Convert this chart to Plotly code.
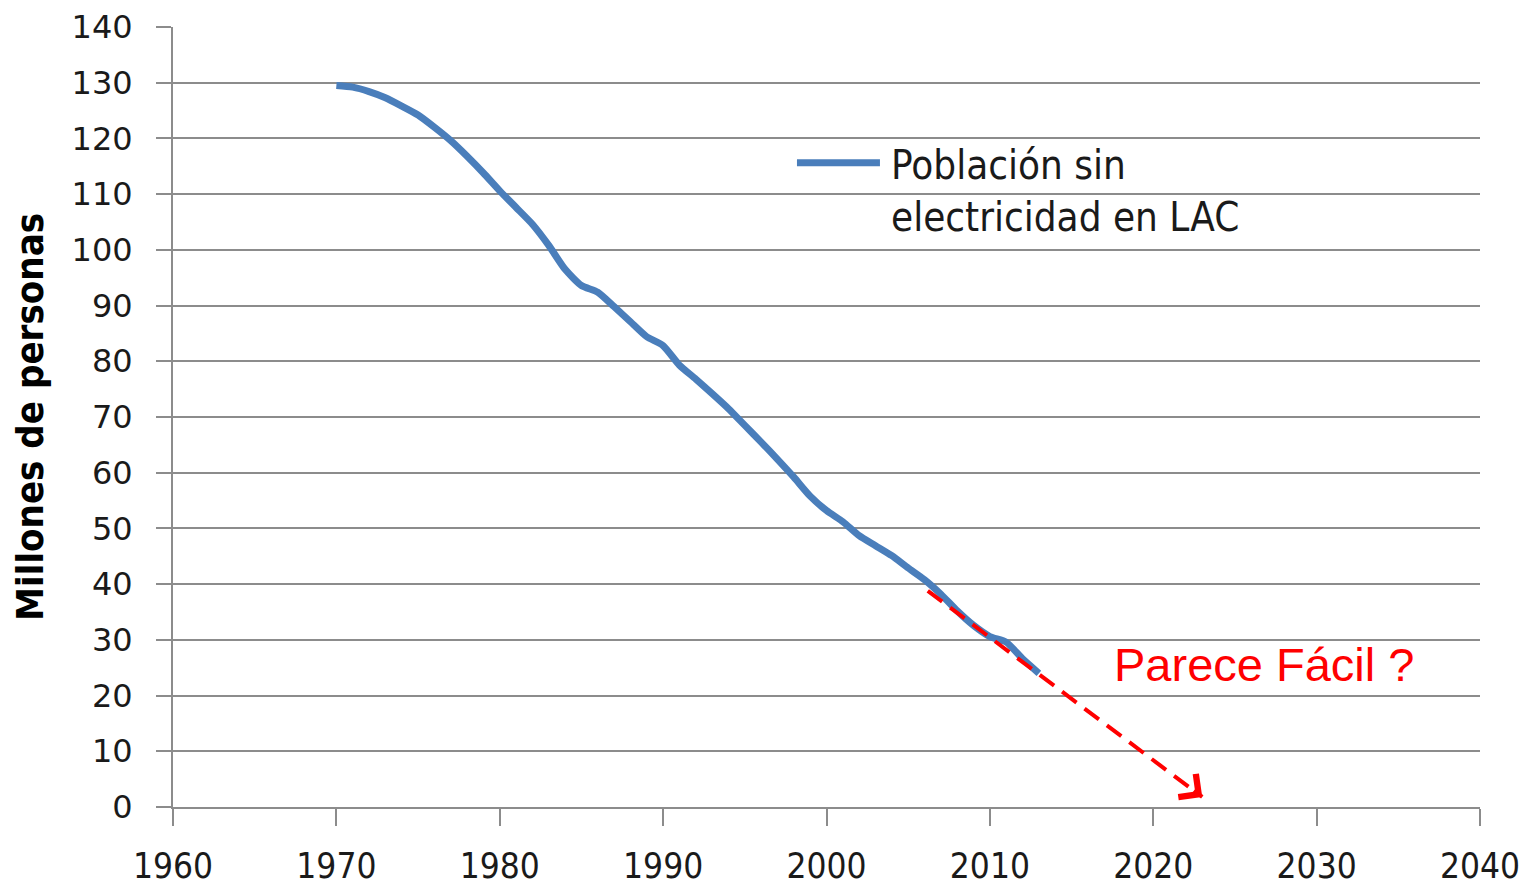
import plotly.graph_objects as go

# población sin electricidad en LAC (millones)
years = list(range(1970, 2014))
poblacion = [129.5, 129.2, 128.4, 127.3, 125.8, 124.2, 122.0, 119.6, 116.8, 113.8,
             110.6, 107.6, 104.6, 100.8, 96.5, 93.6, 92.4, 89.8, 87.1, 84.4,
             82.8, 79.3, 76.8, 74.2, 71.5, 68.5, 65.5, 62.4, 59.2, 55.8,
             53.2, 51.2, 48.7, 46.9, 45.1, 42.9, 40.8, 38.2, 35.2, 32.6,
             30.6, 29.6, 26.6, 24.0]

# tendencia "fácil" (flecha roja)
trend_x = [2006.2, 2023.0]
trend_y = [38.8, 1.8]

x_ticks = [1960, 1970, 1980, 1990, 2000, 2010, 2020, 2030, 2040]
y_ticks = list(range(0, 141, 10))

narrow = "Liberation Sans Narrow, DejaVu Sans Condensed, Arial Narrow, sans-serif"
grid = "#8c8c8c"

fig = go.Figure()
fig.add_trace(go.Scatter(x=years, y=poblacion, mode="lines", showlegend=False,
                         line=dict(color="#4a7ebb", width=7, shape="spline", smoothing=0.6)))
fig.add_trace(go.Scatter(x=trend_x, y=trend_y, mode="lines", showlegend=False,
                         line=dict(color="red", width=4, dash="18px,10px")))

# punta de flecha
fig.add_annotation(x=trend_x[1], y=trend_y[1], ax=trend_x[1] - 0.6, ay=trend_y[1] + 0.6 * 2.21,
                   xref="x", yref="y", axref="x", ayref="y", text="", showarrow=True,
                   arrowhead=4, arrowsize=1.6, arrowwidth=3.5, arrowcolor="red")

fig.add_annotation(x=2026.8, y=25.5, xref="x", yref="y", text="Parece Fácil ?", showarrow=False,
                   font=dict(family="Liberation Sans, Arial", size=47, color="red"))

# leyenda dibujada a mano (línea larga como en Excel)
fig.add_shape(type="line", xref="paper", yref="paper", x0=0.4774, x1=0.5409, y0=0.826, y1=0.826,
              line=dict(color="#4a7ebb", width=7))
fig.add_annotation(x=0.5478, y=0.79, xref="paper", yref="paper", xanchor="left", yanchor="middle",
                   align="left", showarrow=False, text="Población sin<br>electricidad en LAC",
                   font=dict(family=narrow, size=40, color="#1a1a1a"))

fig.update_layout(
    width=1532, height=887,
    margin=dict(l=165, r=60, t=19, b=88),
    plot_bgcolor="white", paper_bgcolor="white",
    xaxis=dict(range=[1960, 2040], tickvals=x_ticks, showgrid=False, zeroline=False,
               automargin=False, ticklabeloverflow="allow",
               showline=True, linecolor=grid, linewidth=2, ticks="outside", ticklen=17,
               tickwidth=2, tickcolor=grid, ticklabelstandoff=10,
               tickfont=dict(family=narrow, size=35, color="#1a1a1a")),
    yaxis=dict(range=[0, 140], tickvals=y_ticks, showgrid=True, gridcolor=grid, gridwidth=2,
               automargin=False, ticklabeloverflow="allow",
               zeroline=False, showline=True, linecolor=grid, linewidth=2, ticks="outside",
               ticklen=15, tickwidth=2, tickcolor=grid, ticklabelstandoff=17,
               tickfont=dict(family="DejaVu Sans", size=32, color="#1a1a1a"),
               title=dict(text="<b>Millones de personas</b>", standoff=20,
                          font=dict(family=narrow, size=38, color="black"))),
)

fig.write_html("out.html")
